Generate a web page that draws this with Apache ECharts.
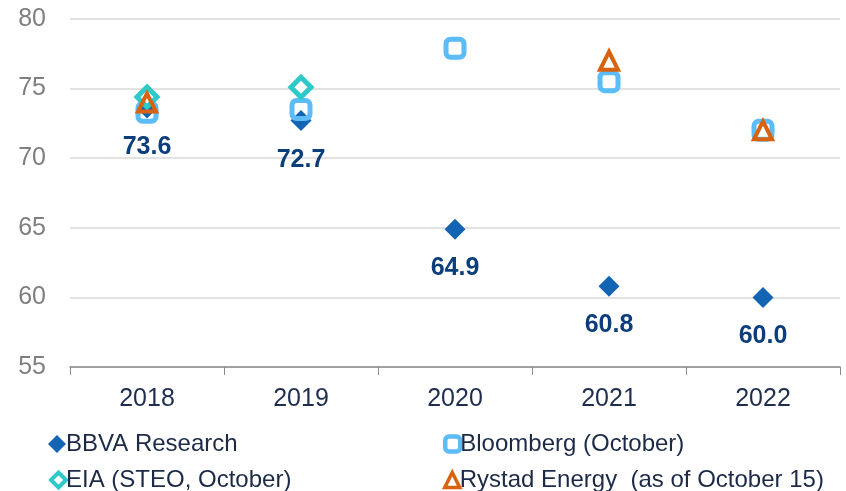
<!DOCTYPE html>
<html>
<head>
<meta charset="utf-8">
<script src="https://cdn.jsdelivr.net/npm/echarts@6/dist/echarts.min.js"></script>
<style>
html,body{margin:0;padding:0;background:#fff;}
#chart{width:846px;height:491px;}
</style>
</head>
<body>
<div id="chart"></div>
<script>
var years = ['2018', '2019', '2020', '2021', '2022'];
var bbva = [73.6, 72.7, 64.9, 60.8, 60.0];
var bloomberg = [73.3, 73.5, 77.9, 75.5, 72.0];
var eia = [74.4, 75.1, null, null, null];
var rystad = [74.0, null, null, 77.0, 72.0];
var yTicks = [55, 60, 65, 70, 75, 80];

var chart = echarts.init(document.getElementById('chart'));
var font = 'Liberation Sans, Arial, sans-serif';

// one legend per item so the 2x2 layout is fixed
function legendAt(name, left, top, bw, size) {
	return {
		left: left, top: top, orient: 'horizontal',
		itemWidth: size, itemHeight: size, itemGap: 0,
		textStyle: {color: '#1c2a48', fontSize: 24, fontFamily: font, padding: [0, 0, 0, -5]},
		data: [{name: name, itemStyle: {borderWidth: bw}}]
	};
}

var option = {
	animation: false,
	grid: {left: 70, right: 6, top: 19, bottom: 124},
	xAxis: {
		type: 'category',
		data: years,
		boundaryGap: true,
		axisLine: {lineStyle: {color: '#8c8c8c', width: 1.5}},
		axisTick: {show: true, length: 8, lineStyle: {color: '#8c8c8c'}},
		axisLabel: {color: '#1f2d4f', fontSize: 25, fontFamily: font, margin: 20}
	},
	yAxis: {
		type: 'value',
		min: yTicks[0],
		max: yTicks[yTicks.length - 1],
		interval: 5,
		axisLine: {show: false},
		axisTick: {show: false},
		axisLabel: {color: '#7f7f7f', fontSize: 25, fontFamily: font, margin: 24},
		splitLine: {lineStyle: {color: '#d9d9d9', width: 1.5}}
	},
	legend: [
		legendAt('BBVA Research', 43, 427, 0, 18),
		legendAt('EIA (STEO, October)', 44, 463, 4, 15),
		legendAt('Bloomberg (October)', 438, 427, 4.5, 15),
		legendAt('Rystad Energy  (as of October 15)', 438, 463, 3.5, 15)
	],
	series: [{
		name: 'BBVA Research',
		type: 'scatter',
		data: bbva,
		symbol: 'diamond',
		symbolSize: 21,
		z: 2,
		itemStyle: {color: '#1464b4', opacity: 1},
		label: {
			show: true, position: 'bottom', distance: 16,
			formatter: function (p) { return p.value.toFixed(1); },
			color: '#0b3e7a', fontSize: 25, fontWeight: 'bold', fontFamily: font
		}
	}, {
		name: 'Bloomberg (October)',
		type: 'scatter',
		data: bloomberg,
		symbol: 'roundRect',
		symbolSize: 18,
		z: 3,
		itemStyle: {color: 'rgba(255,255,255,0)', borderColor: '#5bbcf7', borderWidth: 5, opacity: 1}
	}, {
		name: 'EIA (STEO, October)',
		type: 'scatter',
		data: eia,
		symbol: 'diamond',
		symbolSize: 20,
		z: 4,
		itemStyle: {color: '#ffffff', borderColor: '#2ec9c9', borderWidth: 5, opacity: 1}
	}, {
		name: 'Rystad Energy  (as of October 15)',
		type: 'scatter',
		data: rystad,
		symbol: 'triangle',
		symbolSize: [18, 18],
		z: 5,
		itemStyle: {color: 'rgba(255,255,255,0)', borderColor: '#d9620e', borderWidth: 4, opacity: 1}
	}]
};
chart.setOption(option);
</script>
</body>
</html>
